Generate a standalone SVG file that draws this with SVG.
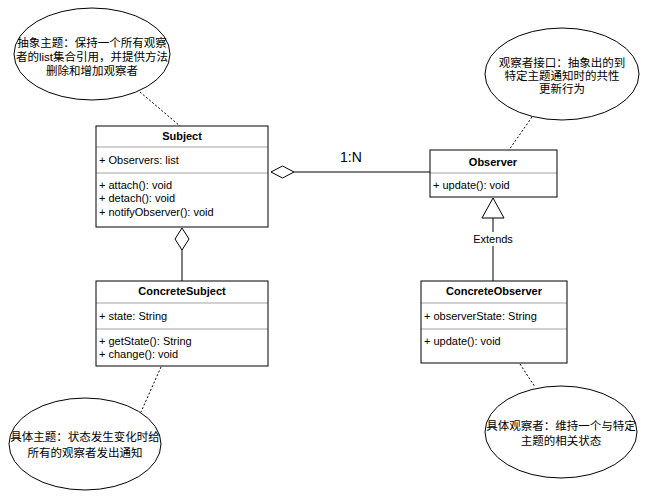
<svg xmlns="http://www.w3.org/2000/svg" width="648" height="500" viewBox="0 0 648 500">
<style>
.b{fill:#fff;stroke:#000;stroke-width:1}
.l{stroke:#000;stroke-width:1;fill:none}
.d{stroke:#000;stroke-width:1;fill:none;stroke-dasharray:2,2}
.sep{stroke:#000;stroke-width:0.6;opacity:0.6}
text{font-family:"Liberation Sans","Noto Sans CJK SC",sans-serif;font-size:11px;fill:#000}
.h{font-weight:bold;text-anchor:middle}
.c{text-anchor:middle}
.n{font-size:11.5px}
</style>
<rect width="648" height="500" fill="#fff"/>
<g id="connectors">
<line class="d" x1="140" y1="92" x2="180" y2="126"/>
<line class="d" x1="532" y1="117" x2="509" y2="150"/>
<line class="d" x1="161" y1="367" x2="141" y2="412"/>
<line class="d" x1="520" y1="364" x2="535" y2="387"/>
<line class="l" x1="294" y1="172" x2="430" y2="172"/>
<polygon class="b" points="271,172 282.5,166 294,172 282.5,178"/>
<text x="340" y="162" style="font-size:14px">1:N</text>
<line class="l" x1="182" y1="250" x2="182" y2="281"/>
<polygon class="b" points="182,228 189,239 182,250 175,239"/>
<line class="l" x1="493" y1="218" x2="493" y2="232"/>
<line class="l" x1="493" y1="246" x2="493" y2="281"/>
<polygon class="b" points="493,198 504,218 482,218"/>
<text x="493" y="243" class="c">Extends</text>
</g>
<g id="note1">
<ellipse class="b" cx="92" cy="54" rx="78" ry="46"/>
<text x="92" y="47" class="c n">抽象主题：保持一个所有观察</text>
<text x="92" y="61" class="c n">者的list集合引用，并提供方法</text>
<text x="92" y="75" class="c n">删除和增加观察者</text>
</g>
<g id="note2">
<ellipse class="b" cx="562" cy="74" rx="77" ry="46"/>
<text x="562" y="67" class="c n">观察者接口：抽象出的到</text>
<text x="562" y="80" class="c n">特定主题通知时的共性</text>
<text x="562" y="93" class="c n">更新行为</text>
</g>
<g id="note3">
<ellipse class="b" cx="85" cy="444" rx="76" ry="46"/>
<text x="85" y="441" class="c n">具体主题：状态发生变化时给</text>
<text x="85" y="457" class="c n">所有的观察者发出通知</text>
</g>
<g id="note4">
<ellipse class="b" cx="561" cy="432" rx="76" ry="46"/>
<text x="561" y="430" class="c n">具体观察者：维持一个与特定</text>
<text x="561" y="445" class="c n">主题的相关状态</text>
</g>
<g id="Subject">
<rect class="b" x="96" y="126" width="172" height="101"/>
<line class="sep" x1="96" y1="147" x2="268" y2="147"/>
<line class="sep" x1="96" y1="173" x2="268" y2="173"/>
<text x="182" y="140" class="h">Subject</text>
<text x="99" y="164">+ Observers: list</text>
<text x="99" y="189">+ attach(): void</text>
<text x="99" y="202">+ detach(): void</text>
<text x="99" y="216">+ notifyObserver(): void</text>
</g>
<g id="Observer">
<rect class="b" x="430" y="150" width="127" height="47"/>
<line class="sep" x1="430" y1="173" x2="557" y2="173"/>
<text x="493" y="166" class="h">Observer</text>
<text x="433" y="189">+ update(): void</text>
</g>
<g id="ConcreteSubject">
<rect class="b" x="96" y="281" width="172" height="85"/>
<line class="sep" x1="96" y1="303" x2="268" y2="303"/>
<line class="sep" x1="96" y1="329" x2="268" y2="329"/>
<text x="182" y="295" class="h">ConcreteSubject</text>
<text x="99" y="320">+ state: String</text>
<text x="99" y="345">+ getState(): String</text>
<text x="99" y="358">+ change(): void</text>
</g>
<g id="ConcreteObserver">
<rect class="b" x="421" y="281" width="146" height="82"/>
<line class="sep" x1="421" y1="303" x2="567" y2="303"/>
<line class="sep" x1="421" y1="329" x2="567" y2="329"/>
<text x="494" y="295" class="h">ConcreteObserver</text>
<text x="424" y="320">+ observerState: String</text>
<text x="424" y="345">+ update(): void</text>
</g>
</svg>
